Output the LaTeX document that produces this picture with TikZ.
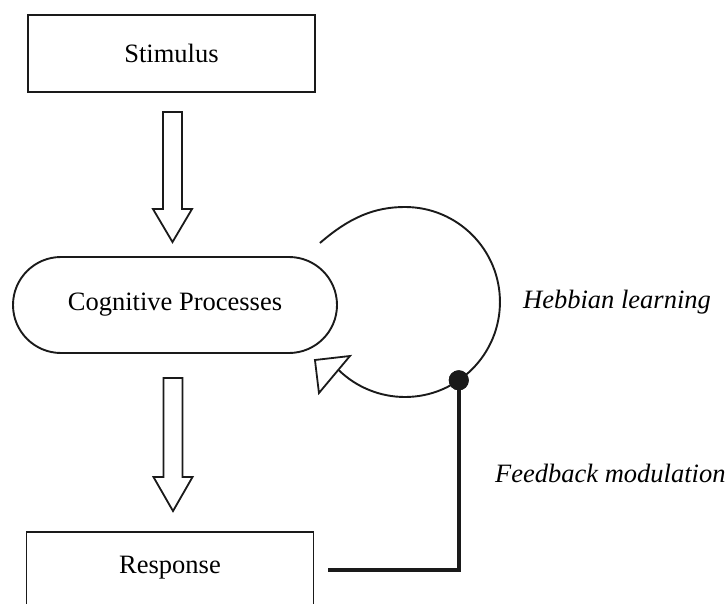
\documentclass[tikz,border=0pt]{standalone}
\usepackage{fontspec}
\setmainfont{Liberation Serif}
\usetikzlibrary{shapes.misc,calc}
\definecolor{ink}{HTML}{1A1A1A}
\newcommand\BlockArrow[4]{% start coord, tip coord, head length
  \draw[blockarrow] let \p1=(#1), \p2=(#2) in
    (\x1-9.5pt,\y1) -- (\x1-9.5pt,\y2+#3) -- (\x1-19.5pt,\y2+#3) -- (\x1,\y2)
    -- (\x1+19.5pt,\y2+#3) -- (\x1+9.5pt,\y2+#3) -- (\x1+9.5pt,\y1) -- cycle;}
\begin{document}
\begin{tikzpicture}[x=1pt,y=1pt,line join=miter,
  txt/.style={font=\fontsize{26.5}{30}\selectfont},
  box/.style={txt,draw=ink,line width=1.9pt,minimum width=287pt,minimum height=77pt,inner sep=0pt},
  stadium/.style={txt,draw=ink,line width=1.9pt,rounded rectangle,minimum width=324pt,minimum height=96pt,inner sep=0pt},
  blockarrow/.style={draw=ink,line width=1.8pt,fill=white},
  loopline/.style={draw=ink,line width=1.9pt},
  fbline/.style={draw=ink,line width=4.5pt},
  dotnode/.style={circle,fill=ink,minimum size=20pt,inner sep=0pt},
  lbl/.style={txt,font=\fontsize{26.5}{30}\selectfont\itshape,inner sep=0pt,anchor=west}]
\useasboundingbox (0,0) rectangle (727,603);
\clip (0,0) rectangle (727,603);
\fill[white] (0,0) rectangle (727,603);

\node[box] (stim) at (171.5,549.5) {Stimulus};
\node[stadium] (cog) at (175,298) {Cognitive Processes};
\node[box] (resp) at (170,32.5) {};
\node[txt] (resptext) at (170,35) {Response};

\coordinate (a1s) at ($(stim.south)+(1,-19)$);
\coordinate (a1e) at ($(cog.north)+(-2.5,14)$);
\BlockArrow{a1s}{a1e}{33pt}{}
\coordinate (a2s) at ($(cog.south)+(-2,-24)$);
\coordinate (a2e) at ($(resp.north)+(3,20)$);
\BlockArrow{a2s}{a2e}{34pt}{}

\coordinate (hc) at ($(cog.east)+(67,3)$);
\draw[loopline] ($(hc)+(-85,59)$) .. controls ($(hc)+(-55,85)$) and ($(hc)+(-30,95)$) .. ($(hc)+(0,95)$)
  arc[start angle=90,end angle=-134,radius=95];
\draw[blockarrow,line width=1.8pt] ($(hc)+(-90,-58)$) -- ($(hc)+(-55,-54)$) -- ($(hc)+(-86,-91)$) -- cycle;

\coordinate (fbend) at ($(resp.east)+(14,0.5)$);
\node[dotnode] (dot) at ($(hc)+(-55.5:95)$) {};
\draw[fbline] (dot.center) -- (dot.center |- fbend) -- (fbend);
\node[dotnode] at (dot) {};

\node[lbl] (hl) at (523,301) {Hebbian learning};
\node[lbl] (fl) at (495,130) {Feedback modulation};
\end{tikzpicture}
\end{document}
